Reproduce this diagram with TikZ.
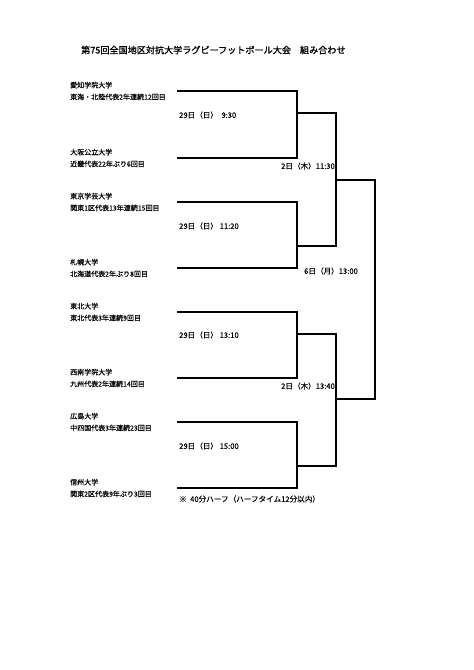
\documentclass[tikz,border=0pt]{standalone}
\usepackage{fontspec}
\newfontfamily\jpfont{Noto Sans CJK JP}[FakeBold=0.3]
\newfontfamily\jptitle{Noto Sans CJK JP}[FakeBold=1.3]
\tikzset{
  team/.style={anchor=west, align=left, inner sep=0pt, font=\jpfont\fontsize{7}{11.8}\selectfont},
  kickoff/.style={inner sep=0pt, font=\jpfont\fontsize{7.6}{9}\selectfont},
  bracket/.style={line width=1.7pt, line join=miter}
}

\begin{document}
\begin{tikzpicture}[
  x=1pt, y=-1pt
]
\useasboundingbox (0,0) rectangle (474,670);

\node[anchor=west, inner sep=0pt, font=\jptitle\fontsize{9.1}{10}\selectfont] (title) at (81,50)
  {第75回全国地区対抗大学ラグビーフットボール大会　組み合わせ};

\node[team] (t1) at (70,91)  {愛知学院大学\\東海・北陸代表2年連続12回目};
\node[team] (t2) at (70,158) {大阪公立大学\\近畿代表22年ぶり6回目};
\node[team] (t3) at (70,202) {東京学芸大学\\関東1区代表13年連続15回目};
\node[team] (t4) at (70,268) {札幌大学\\北海道代表2年ぶり8回目};
\node[team] (t5) at (70,312) {東北大学\\東北代表3年連続9回目};
\node[team] (t6) at (70,378) {西南学院大学\\九州代表2年連続14回目};
\node[team] (t7) at (70,422) {広島大学\\中四国代表3年連続23回目};
\node[team] (t8) at (70,488) {信州大学\\関東2区代表9年ぶり3回目};

\coordinate (s1) at (177,91);
\coordinate (s2) at (177,158);
\coordinate (s3) at (177,202);
\coordinate (s4) at (177,268);
\coordinate (s5) at (177,312);
\coordinate (s6) at (177,378);
\coordinate (s7) at (177,422);
\coordinate (s8) at (177,488);

\coordinate (m1) at (297,113);
\coordinate (m2) at (297,246);
\coordinate (m3) at (297,334);
\coordinate (m4) at (297,466);
\coordinate (q1) at (336,180);
\coordinate (q2) at (336,399);
\coordinate (fr) at (375,290);

\draw[bracket] (s1) -| (m1) |- (s2);
\draw[bracket] (s3) -| (m2) |- (s4);
\draw[bracket] (s5) -| (m3) |- (s6);
\draw[bracket] (s7) -| (m4) |- (s8);
\draw[bracket] (m1) -| (q1) |- (m2);
\draw[bracket] (m3) -| (q2) |- (m4);
\draw[bracket] (q1) -| (fr) |- (q2);

\node[kickoff, anchor=west] (k1) at (179,115) {29日（日）\ \ 9:30};
\node[kickoff, anchor=west] (k2) at (179,226) {29日（日）\ 11:20};
\node[kickoff, anchor=west] (k3) at (179,335) {29日（日）\ 13:10};
\node[kickoff, anchor=west] (k4) at (179,446) {29日（日）\ 15:00};
\node[kickoff, anchor=east] (k5) at (335,166) {2日（木）11:30};
\node[kickoff, anchor=east] (k6) at (335,386) {2日（木）13:40};
\node[kickoff, anchor=west] (k7) at (304,271) {6日（月）13:00};
\node[kickoff, anchor=west] (note) at (179,499) {※\ \ 40分ハーフ（ハーフタイム12分以内）};
\end{tikzpicture}
\end{document}
